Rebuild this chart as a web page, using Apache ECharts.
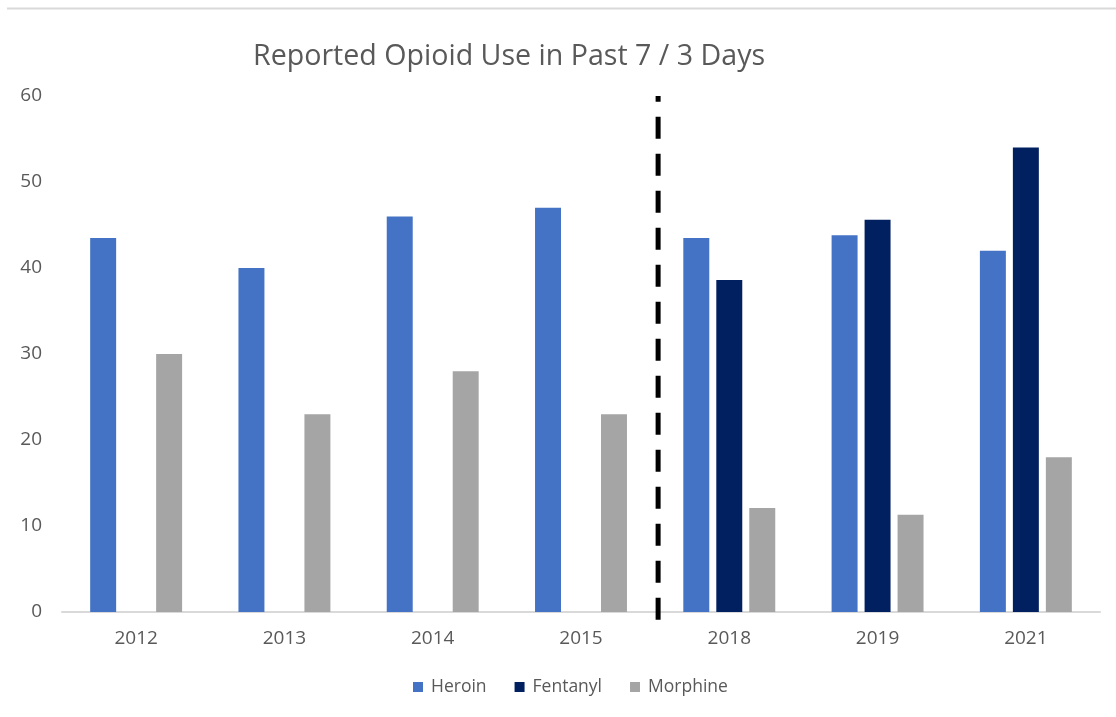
<!DOCTYPE html>
<html>
<head>
<meta charset="utf-8">
<script src="https://cdn.jsdelivr.net/npm/echarts@6/dist/echarts.min.js"></script>
<style>
  html, body { margin: 0; padding: 0; background: #ffffff; }
  #chart { width: 1116px; height: 717px; }
</style>
</head>
<body>
<div id="chart"></div>
<script>
const categories = ['2012', '2013', '2014', '2015', '2018', '2019', '2021'];
const heroin = [43.5, 40, 46, 47, 43.5, 43.8, 42];
const fentanyl = [null, null, null, null, 38.6, 45.6, 54];
const morphine = [30, 23, 28, 23, 12.1, 11.3, 18];
const yTicks = { min: 0, max: 60, interval: 10 };
const dividerX = [4.02, 4.02];
const dividerY = [-0.9, 60];

const chart = echarts.init(document.getElementById('chart'));
const textColor = '#595959';
const font = '"Open Sans", "Liberation Sans", sans-serif';

chart.setOption({
  backgroundColor: '#ffffff',
  animation: false,
  title: {
    text: 'Reported Opioid Use in Past 7 / 3 Days',
    left: 248,
    top: 37,
    textStyle: { fontFamily: font, fontSize: 28.6, fontWeight: 'normal', color: textColor }
  },
  legend: {
    bottom: 16,
    left: 408,
    itemWidth: 10,
    itemHeight: 10,
    itemGap: 28,
    icon: 'rect',
    data: ['Heroin', 'Fentanyl', 'Morphine'],
    textStyle: { fontFamily: font, fontSize: 17.5, color: textColor, padding: [0, 0, 0, 3] }
  },
  grid: { left: 62, right: 16, top: 96, bottom: 105, containLabel: false },
  xAxis: [
    {
      type: 'category',
      data: categories,
      axisLine: { lineStyle: { color: '#d9d9d9', width: 2 } },
      axisTick: { show: false },
      axisLabel: { fontFamily: font, fontSize: 19, color: textColor, margin: 17 }
    },
    {
      type: 'value',
      min: 0,
      max: categories.length,
      show: false
    }
  ],
  yAxis: {
    type: 'value',
    min: yTicks.min,
    max: yTicks.max,
    interval: yTicks.interval,
    splitLine: { show: false },
    axisLine: { show: false },
    axisTick: { show: false },
    axisLabel: { fontFamily: font, fontSize: 19, color: textColor, margin: 20 }
  },
  graphic: [
    {
      type: 'line',
      shape: { x1: 7, y1: 8.5, x2: 1116, y2: 8.5 },
      style: { stroke: '#d9d9d9', lineWidth: 2 }
    }
  ],
  series: [
    {
      name: 'Heroin', type: 'bar', data: heroin,
      barGap: '27%', barCategoryGap: '38%',
      itemStyle: { color: '#4472c4' }
    },
    {
      name: 'Fentanyl', type: 'bar', data: fentanyl,
      itemStyle: { color: '#002060' }
    },
    {
      name: 'Morphine', type: 'bar', data: morphine,
      itemStyle: { color: '#a5a5a5' }
    },
    {
      name: 'divider', type: 'line',
      xAxisIndex: 1,
      data: dividerX.map((x, i) => [x, dividerY[i]]),
      symbol: 'none',
      clip: false,
      silent: true,
      lineStyle: { color: '#000000', width: 5, type: [22, 15] }
    }
  ]
});
</script>
</body>
</html>
